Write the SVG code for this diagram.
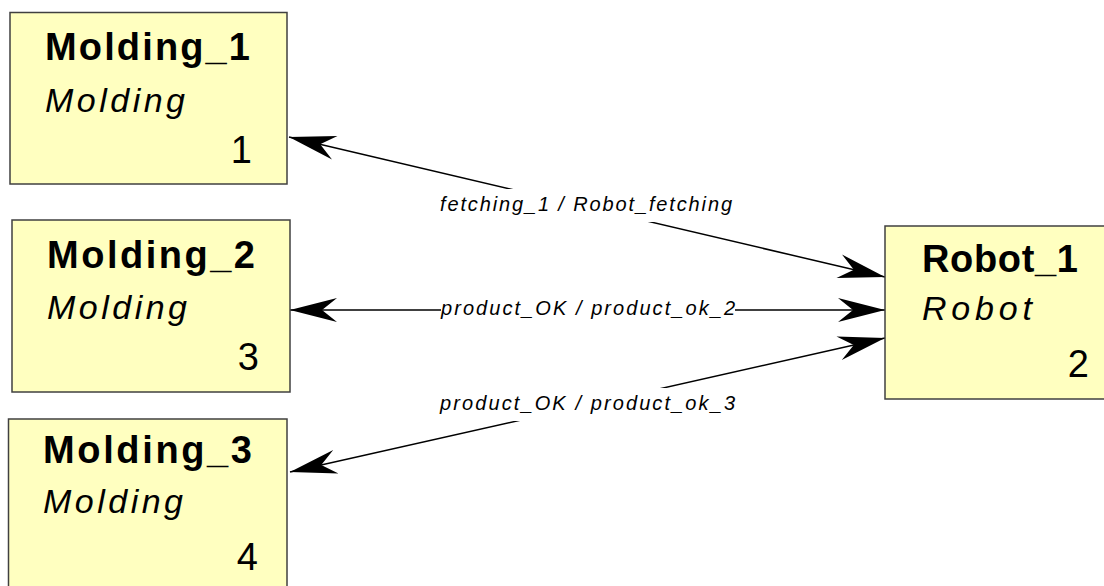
<svg xmlns="http://www.w3.org/2000/svg" width="1104" height="586" viewBox="0 0 1104 586">
  <style>
    .box { fill: #FFFFC0; stroke: #404040; stroke-width: 1.5; }
    .name { font-family: "Liberation Sans", Arial, sans-serif; font-weight: bold; font-size: 38px; fill: #000; }
    .type { font-family: "Liberation Sans", Arial, sans-serif; font-style: italic; font-size: 34px; fill: #000; }
    .num { font-family: "Liberation Sans", Arial, sans-serif; font-size: 38px; fill: #000; text-anchor: end; }
    .edge { stroke: #000; stroke-width: 1.5; fill: none; marker-start: url(#head); marker-end: url(#head); }
    .lbl-bg { fill: #FFFFFF; }
    .lbl { font-family: "Liberation Sans", Arial, sans-serif; font-style: italic; font-size: 20px; fill: #000; }
  </style>
  <defs>
    <marker id="head" markerUnits="userSpaceOnUse" viewBox="-48 -13 49 26" refX="0" refY="0" markerWidth="49" markerHeight="26" orient="auto-start-reverse">
      <path d="M0,0 L-47,-12 L-32,0 L-47,12 Z" fill="#000"/>
    </marker>
  </defs>

  <rect width="1104" height="586" fill="#FFFFFF"/>

  <!-- connectors -->
  <g id="connectors">
    <line class="edge" x1="885" y1="277" x2="289" y2="137"/>
    <rect class="lbl-bg" x="440" y="189" width="292" height="33"/>
    <text class="lbl" x="440" y="211" textLength="292" lengthAdjust="spacing">fetching_1 / Robot_fetching</text>

    <line class="edge" x1="885" y1="310" x2="290" y2="310"/>
    <rect class="lbl-bg" x="441" y="294" width="294" height="30"/>
    <text class="lbl" x="441" y="315" textLength="294" lengthAdjust="spacing">product_OK / product_ok_2</text>

    <line class="edge" x1="885" y1="338" x2="290" y2="472"/>
    <rect class="lbl-bg" x="440" y="388" width="295" height="33"/>
    <text class="lbl" x="440" y="410" textLength="295" lengthAdjust="spacing">product_OK / product_ok_3</text>
  </g>

  <!-- nodes -->
  <g id="molding_1">
    <rect class="box" x="10" y="12.5" width="277" height="171.5"/>
    <text class="name" x="45" y="60" textLength="205" lengthAdjust="spacing">Molding_1</text>
    <text class="type" x="45" y="112" textLength="140" lengthAdjust="spacing">Molding</text>
    <text class="num" x="252" y="163">1</text>
  </g>

  <g id="molding_2">
    <rect class="box" x="12" y="220" width="278" height="172"/>
    <text class="name" x="47" y="268" textLength="208" lengthAdjust="spacing">Molding_2</text>
    <text class="type" x="47" y="319" textLength="140" lengthAdjust="spacing">Molding</text>
    <text class="num" x="259" y="370">3</text>
  </g>

  <g id="molding_3">
    <rect class="box" x="8.5" y="419" width="278.5" height="180"/>
    <text class="name" x="43" y="463" textLength="209" lengthAdjust="spacing">Molding_3</text>
    <text class="type" x="43" y="513" textLength="140" lengthAdjust="spacing">Molding</text>
    <text class="num" x="258" y="570">4</text>
  </g>

  <g id="robot_1">
    <rect class="box" x="885" y="226" width="230" height="173"/>
    <text class="name" x="922" y="272" textLength="156" lengthAdjust="spacing">Robot_1</text>
    <text class="type" x="922" y="320" textLength="110" lengthAdjust="spacing">Robot</text>
    <text class="num" x="1089" y="377">2</text>
  </g>
</svg>
